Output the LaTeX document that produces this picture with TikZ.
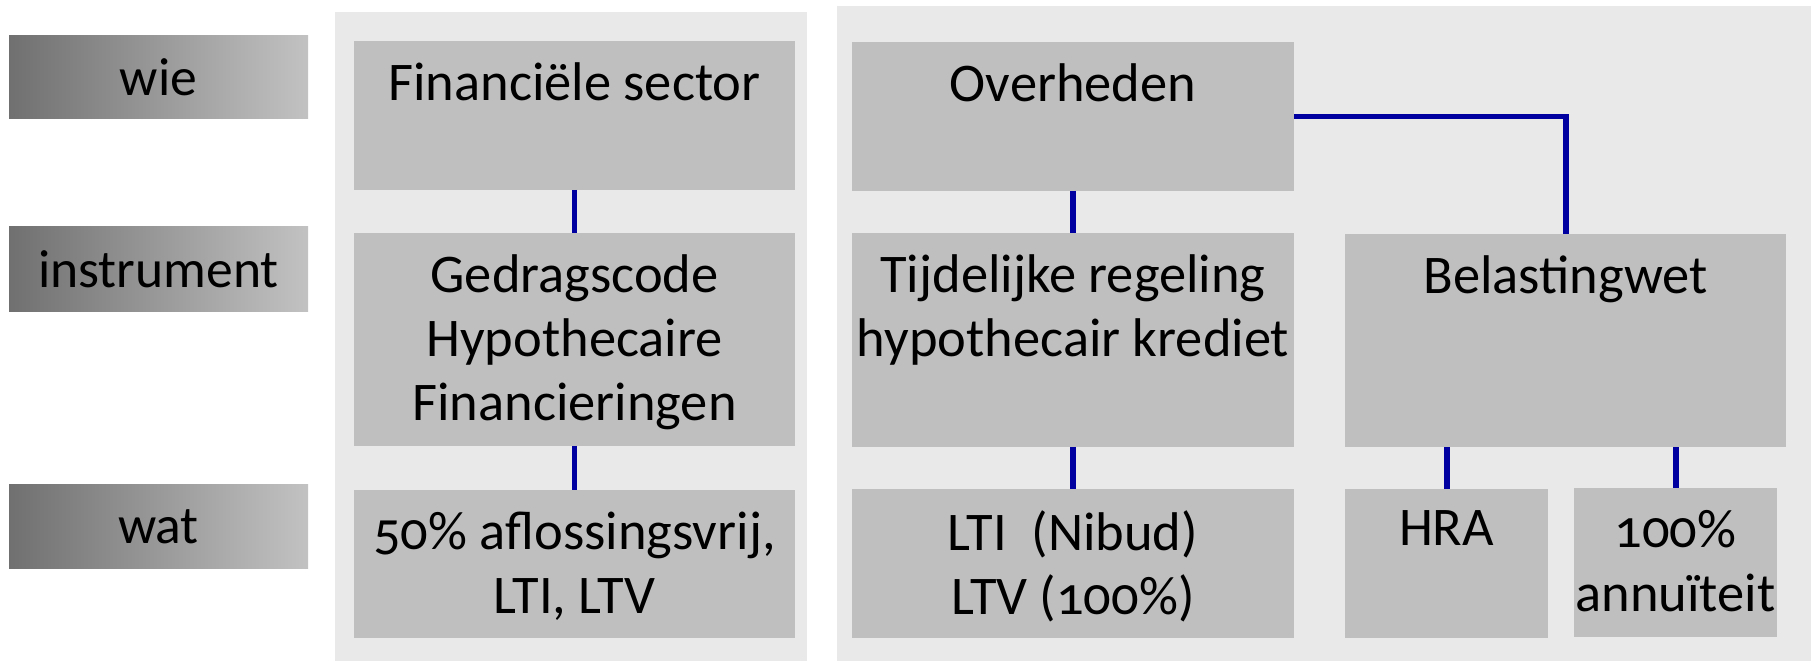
\documentclass[tikz,border=0pt]{standalone}
\usepackage{fontspec}
\setmainfont[Numbers=OldStyle]{Carlito}
\usetikzlibrary{positioning,fit}

\definecolor{panelgray}{RGB}{233,233,233}
\definecolor{boxgray}{RGB}{191,191,191}
\definecolor{linkblue}{RGB}{0,0,160}
\definecolor{hdrdark}{RGB}{112,112,112}
\definecolor{hdrlight}{RGB}{194,194,194}

\begin{document}
\begin{tikzpicture}[x=0.02cm,y=-0.02cm,
    every node/.style={inner sep=0pt,outer sep=0pt},
    panel/.style={fill=panelgray},
    box/.style={fill=boxgray},
    txt/.style={anchor=north,yshift=-0.44cm,align=center,
      font=\fontsize{31}{36.4}\selectfont},
    hdr/.style={left color=hdrdark,right color=hdrlight},
    hdrtxt/.style={anchor=center,font=\fontsize{30.5}{36}\selectfont},
    link/.style={draw=linkblue,line width=3.4pt}]
      \useasboundingbox (0,0) rectangle (1811,661);

      % achtergrondvlakken
      \node[panel, fit={(335,12) (807,661)}] (sectorpanel) {};
      \node[panel, fit={(837,6) (1811,661)}] (overheidpanel) {};

      % rijkoppen
      \node[hdr, fit={(9,36) (308,119)},
        label={[hdrtxt]center:wie}] (wie) {};
      \node[hdr, fit={(9,227) (308,312)},
        label={[hdrtxt]center:instrument}] (instrument) {};
      \node[hdr, fit={(9,485) (308,569)},
        label={[hdrtxt]center:wat}] (wat) {};

      % financiele sector
      \node[box, fit={(354,41) (795,190)},
        label={[txt]north:Financiële sector}] (sector) {};
      \node[box, fit={(354,233) (795,446)},
        label={[txt]north:Gedragscode\\Hypothecaire\\Financieringen}] (gedragscode) {};
      \node[box, fit={(354,490) (795,638)},
        label={[txt]north:50\% aflossingsvrij,\\LTI, LTV}] (aflossing) {};

      % overheden
      \node[box, fit={(852,42) (1294,191)},
        label={[txt]north:Overheden}] (overheden) {};
      \node[box, fit={(852,233) (1294,447)},
        label={[txt]north:Tijdelijke regeling\\hypothecair krediet}] (regeling) {};
      \node[box, fit={(852,489) (1294,638)},
        label={[txt]north:LTI\ \ (Nibud)\\LTV (100\%)}] (nibud) {};
      \node[box, fit={(1345,234) (1786,447)},
        label={[txt]north:Belastingwet}] (belasting) {};
      \node[box, fit={(1345,489) (1548,638)},
        label={[txt]north:HRA}] (hra) {};
      \node[box, fit={(1574,488) (1777,637)},
        label={[txt]north:100\%\\annuïteit}] (annuiteit) {};

      \draw[link] (sector) -- (gedragscode);
      \draw[link] (gedragscode) -- (aflossing);
      \draw[link] (overheden) -- (regeling);
      \draw[link] (regeling) -- (nibud);
      \draw[link] (overheden.east) -| (belasting.north);
      \draw[link] (hra.north) -- (hra.north |- belasting.south);
      \draw[link] (annuiteit.north) -- (annuiteit.north |- belasting.south);
    \end{tikzpicture}
\end{document}
